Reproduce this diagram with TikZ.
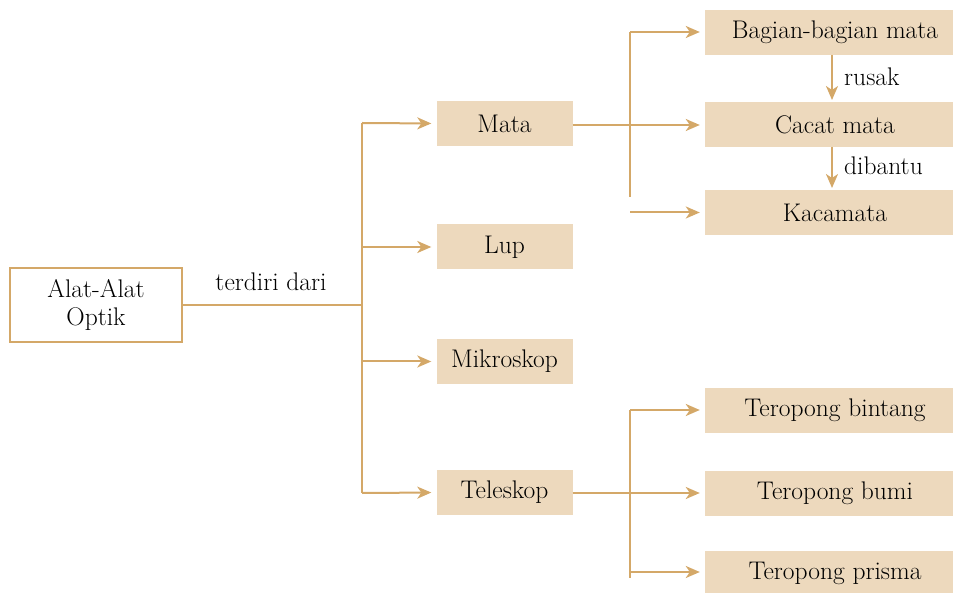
\documentclass[tikz,border=0pt]{standalone}
\usetikzlibrary{arrows.meta}
\definecolor{ln}{RGB}{212,168,104}
\definecolor{bx}{RGB}{237,217,189}
\begin{document}
\begin{tikzpicture}[x=1pt,y=-1pt,
  every node/.style={font=\fontsize{25.5}{28}\selectfont, text=black},
  conn/.style={draw=ln, line width=2pt},
  arr/.style={conn, -{Stealth[length=14pt,width=12pt,inset=4pt]}, shorten >=5pt},
  midbox/.style={fill=bx, minimum width=136, minimum height=45, inner sep=0pt},
  rbox/.style={fill=bx, minimum width=248, minimum height=45, inner sep=0pt},
  rootbox/.style={draw=ln, line width=2pt, fill=white, minimum width=172, minimum height=74, align=center, inner sep=0pt, font=\fontsize{25.5}{28}\selectfont},
  lbl/.style={font=\fontsize{25.5}{28}\selectfont, anchor=west, inner sep=0pt}]
\useasboundingbox (0,0) rectangle (953,593);
\node[rootbox] (root) at (96,305) {Alat-Alat\\Optik};
\node[midbox] (mata) at (504.5,123.5) {Mata};
\node[midbox] (lup) at (504.5,247) {Lup};
\node[midbox] (mik) at (504.5,361.5) {Mikroskop};
\node[midbox] (tel) at (504.5,492.5) {Teleskop};
\node[rbox] (bag) at (829,32.5) {\hspace{12pt}Bagian-bagian mata};
\node[rbox] (cac) at (829,124.5) {\hspace{12pt}Cacat mata};
\node[rbox] (kac) at (829,212.5) {\hspace{12pt}Kacamata};
\node[rbox] (bin) at (829,410.5) {\hspace{12pt}Teropong bintang};
\node[rbox] (bum) at (829,493.5) {\hspace{12pt}Teropong bumi};
\node[rbox] (pri) at (829,573.5) {\hspace{12pt}Teropong prisma};
% trunk
\coordinate (j) at (362,305);
\coordinate (t1) at (362,123);
\coordinate (t2) at (362,247);
\coordinate (t3) at (362,361.5);
\coordinate (t4) at (362,493);
\node[anchor=south, inner sep=0pt] (td) at (271,291) {terdiri dari};
\draw[conn] (root.east) -- (j);
\draw[conn] (t1) -- (t4);
\draw[arr] (t1) -- (mata.west);
\draw[arr] (t2) -- (lup.west);
\draw[arr] (t3) -- (mik.west);
\draw[arr] (t4) -- (tel.west);
% mata branch
\coordinate (m0) at (572.5,125);
\coordinate (ma) at (630,32);
\coordinate (mb) at (630,197);
\coordinate (mc) at (630,212.5);
\draw[conn] (ma) -- (mb);
\draw[arr] (m0) -- (cac.west|-m0);
\draw[arr] (ma) -- (bag.west|-ma);
\draw[arr] (mc) -- (kac.west|-mc);
\draw[arr, shorten >=2pt] (832,55) -- (832,102);
\draw[arr, shorten >=2pt] (832,147) -- (832,190);
\node[lbl] (rus) at (844,77) {rusak};
\node[lbl] (dib) at (844,166) {dibantu};
% teleskop branch
\coordinate (s0) at (572.5,493);
\coordinate (sa) at (630,410);
\coordinate (sb) at (630,493);
\coordinate (sc) at (630,578);
\coordinate (sc2) at (630,572);
\draw[conn] (sa) -- (sc);
\draw[conn] (s0) -- (sb);
\draw[arr] (sa) -- (bin.west|-sa);
\draw[arr] (sb) -- (bum.west|-sb);
\draw[arr] (sc2) -- (pri.west|-sc2);
\end{tikzpicture}
\end{document}
